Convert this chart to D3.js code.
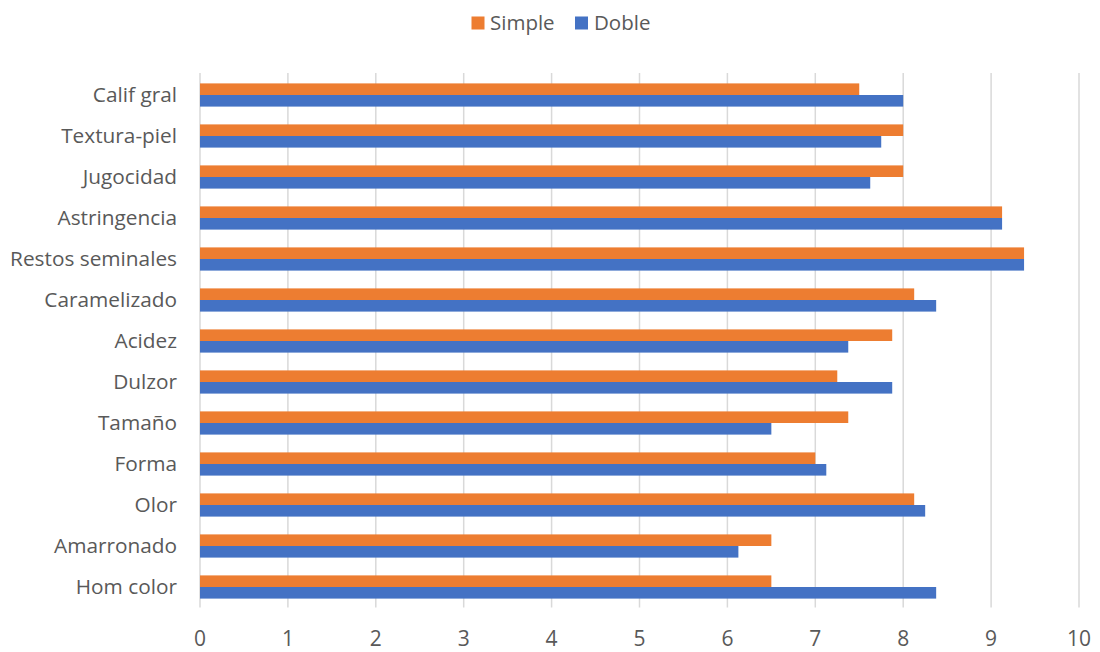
<!DOCTYPE html>
<html>
<head>
<meta charset="utf-8">
<script src="https://cdn.jsdelivr.net/npm/d3@7"></script>
<style>
  body { margin: 0; background: #fff; }
  svg { display: block; font-family: "Open Sans", "Noto Sans", sans-serif; }
</style>
</head>
<body>
<div id="chart"></div>
<script>
// categories, top to bottom as drawn
const categories = ["Calif gral", "Textura-piel", "Jugocidad", "Astringencia", "Restos seminales",
  "Caramelizado", "Acidez", "Dulzor", "Tamaño", "Forma", "Olor", "Amarronado", "Hom color"];
const simple = [7.5, 8, 8, 9.125, 9.375, 8.125, 7.875, 7.25, 7.375, 7, 8.125, 6.5, 6.5];
const doble  = [8, 7.75, 7.625, 9.125, 9.375, 8.375, 7.375, 7.875, 6.5, 7.125, 8.25, 6.125, 8.375];
const seriesNames = ["Simple", "Doble"];
const xTicks = [0, 1, 2, 3, 4, 5, 6, 7, 8, 9, 10];

const width = 1100, height = 652;
const margin = {top: 74.5, right: 21, bottom: 44.5, left: 200};
const colors = ["#ED7D31", "#4472C4"];
const textColor = "#595959";

const x = d3.scaleLinear()
    .domain([0, 10])
    .range([margin.left, width - margin.right]);

const y = d3.scaleBand()
    .domain(categories)
    .range([margin.top, height - margin.bottom]);

const barH = 11.6;

const svg = d3.select("#chart").append("svg")
    .attr("width", width)
    .attr("height", height)
    .attr("viewBox", [0, 0, width, height]);

// gridlines
svg.append("g")
    .selectAll("line")
    .data(xTicks)
    .join("line")
        .attr("x1", d => x(d))
        .attr("x2", d => x(d))
        .attr("y1", margin.top - 1.5)
        .attr("y2", height - margin.bottom)
        .attr("stroke", "#d9d9d9")
        .attr("stroke-width", 1.5);

// bars
const rows = categories.map((c, i) => ({cat: c, values: [simple[i], doble[i]]}));
const groups = svg.append("g")
    .selectAll("g")
    .data(rows)
    .join("g")
        .attr("transform", d => `translate(0,${y(d.cat) + y.bandwidth() / 2})`);

groups.selectAll("rect")
    .data(d => d.values.map((v, k) => ({v, k})))
    .join("rect")
        .attr("x", x(0))
        .attr("y", d => d.k === 0 ? -barH : 0)
        .attr("width", d => x(d.v) - x(0))
        .attr("height", barH)
        .attr("fill", d => colors[d.k]);

// category labels
svg.append("g")
    .selectAll("text")
    .data(categories)
    .join("text")
        .attr("x", margin.left - 23)
        .attr("y", d => y(d) + y.bandwidth() / 2)
        .attr("dy", "0.35em")
        .attr("text-anchor", "end")
        .attr("fill", textColor)
        .attr("font-size", 20.8)
        .text(d => d);

// x tick labels
svg.append("g")
    .selectAll("text")
    .data(xTicks)
    .join("text")
        .attr("x", d => x(d))
        .attr("y", 638.5)
        .attr("dy", "0.35em")
        .attr("text-anchor", "middle")
        .attr("fill", textColor)
        .attr("font-size", 21)
        .text(d => d);

// legend
const legend = svg.append("g");
const legendItems = [
  {name: seriesNames[0], color: colors[0], x: 471.5, tx: 490},
  {name: seriesNames[1], color: colors[1], x: 575, tx: 594}
];
legend.selectAll("rect")
    .data(legendItems)
    .join("rect")
        .attr("x", d => d.x)
        .attr("y", 16.5)
        .attr("width", 13)
        .attr("height", 13)
        .attr("fill", d => d.color);
legend.selectAll("text")
    .data(legendItems)
    .join("text")
        .attr("x", d => d.tx)
        .attr("y", 22.5)
        .attr("dy", "0.35em")
        .attr("fill", textColor)
        .attr("font-size", 20.5)
        .text(d => d.name);
</script>
</body>
</html>
